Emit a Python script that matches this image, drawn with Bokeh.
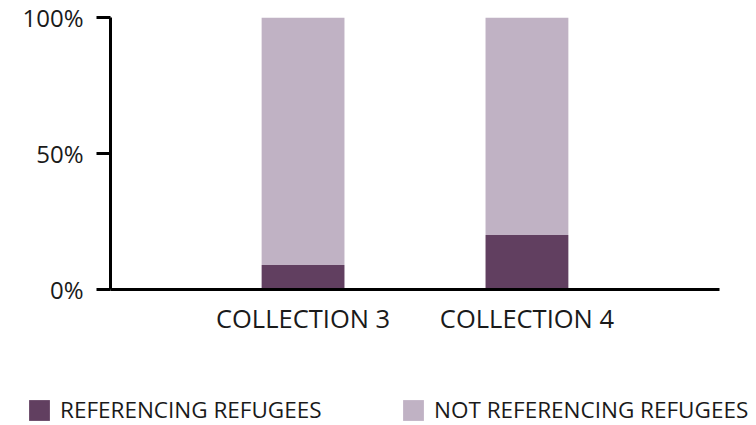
from bokeh.plotting import figure
from bokeh.layouts import column
from bokeh.models import (ColumnDataSource, FactorRange, Range1d, FixedTicker,
                          PrintfTickFormatter, Legend, LegendItem)
from bokeh.embed import file_html
from bokeh.resources import INLINE

# Share of items in each collection that reference refugees (percent)
collections = ["COLLECTION 3", "COLLECTION 4"]
referencing = [9, 20]
not_referencing = [91, 80]
series = ["referencing", "not_referencing"]
series_labels = ["REFERENCING REFUGEES", "NOT REFERENCING REFUGEES"]
colors = ["#613f60", "#c0b2c4"]
y_ticks = [0, 50, 100]

source = ColumnDataSource(data=dict(
    collection=collections,
    referencing=referencing,
    not_referencing=not_referencing,
))

FONT = "Open Sans"
TEXT = "#1a1a1a"

p = figure(
    width=756, height=370,
    x_range=FactorRange(factors=collections, range_padding=0.36),
    y_range=Range1d(0, 100),
    output_backend="svg", toolbar_location=None,
    min_border_left=110, min_border_right=37,
    min_border_top=17, min_border_bottom=81,
)
p.outline_line_color = None
p.background_fill_color = "white"
p.border_fill_color = "white"
p.grid.visible = False

p.vbar_stack(series, x="collection", width=0.37, color=colors,
             source=source, line_color=None)

# y axis: percentage ticks pointing outward
p.yaxis.ticker = FixedTicker(ticks=y_ticks)
p.yaxis.formatter = PrintfTickFormatter(format="%d%%")
p.yaxis.axis_line_width = 3
p.yaxis.axis_line_color = "black"
p.yaxis.major_tick_line_width = 3
p.yaxis.major_tick_line_color = "black"
p.yaxis.major_tick_out = 14
p.yaxis.major_tick_in = 0
p.yaxis.minor_tick_line_color = None
p.yaxis.major_label_standoff = 13
p.yaxis.major_label_text_font = FONT
p.yaxis.major_label_text_font_size = "24px"
p.yaxis.major_label_text_color = TEXT

# x axis: category names, no ticks
p.xaxis.axis_line_width = 3
p.xaxis.axis_line_color = "black"
p.xaxis.major_tick_line_color = None
p.xaxis.minor_tick_line_color = None
p.xaxis.major_label_standoff = 5
p.xaxis.major_label_text_font = FONT
p.xaxis.major_label_text_font_size = "25.5px"
p.xaxis.major_label_text_color = TEXT

# legend strip under the chart; its bars are hidden so only the key shows
key = figure(
    width=756, height=55,
    x_range=FactorRange(factors=collections),
    y_range=Range1d(0, 100),
    x_axis_type=None, y_axis_type=None,
    output_backend="svg", toolbar_location=None,
    min_border=0,
)
key.outline_line_color = None
key.grid.visible = False
key_renderers = key.vbar_stack(series, x="collection", width=0.37, color=colors,
                               source=source, line_color=None)
for r in key_renderers:
    r.visible = False

# keep the strip's frame independent of the chart's frame
for fig in (p, key):
    if "frame_align" in fig.properties():
        fig.frame_align = False

for r, label, x0 in zip(key_renderers, series_labels, [26, 400]):
    lg = Legend(items=[LegendItem(label=label, renderers=[r])], location=(x0, 0))
    lg.margin = 0
    lg.padding = 0
    lg.border_line_color = None
    lg.background_fill_alpha = 0
    lg.inactive_fill_alpha = 0
    lg.glyph_width = 26
    lg.glyph_height = 26
    lg.label_standoff = 8
    lg.label_text_font = FONT
    lg.label_text_font_size = "22.5px"
    lg.label_text_color = TEXT
    lg.label_height = 26
    key.add_layout(lg, "center")

layout = column(p, key, spacing=0)
open("out.html", "w").write(file_html(layout, INLINE))
